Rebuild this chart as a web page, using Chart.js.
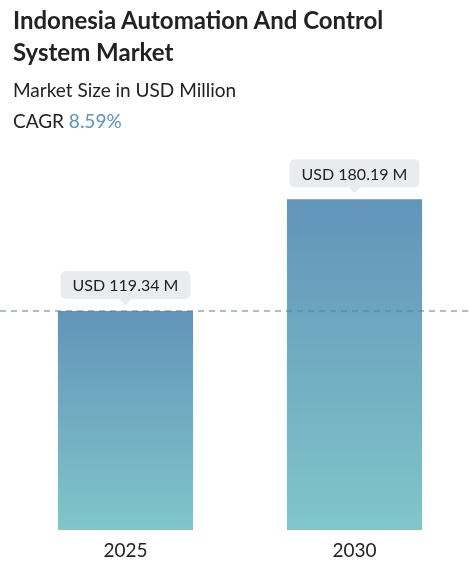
<!DOCTYPE html>
<html><head><meta charset="utf-8">
<script src="https://cdn.jsdelivr.net/npm/chart.js@4"></script>
<style>
body{margin:0;width:469px;height:562px;position:relative;font-family:Lato,"Open Sans",sans-serif;background:#fff;overflow:hidden}
#head{position:absolute;left:13px;top:4px;color:#222}
h1{margin:0;font-size:24px;line-height:32px;font-weight:700}
.sub{font-size:19px;line-height:31px;margin-top:6px}
.sub + .sub{margin-top:0}
.cagr{color:#5f93b8}
#wrap{position:absolute;left:0;top:0;width:469px;height:562px}
</style></head><body>
<div id="wrap"><canvas id="myChart"></canvas></div>
<div id="head">
<h1>Indonesia Automation And Control<br>System Market</h1>
<div class="sub">Market Size in USD Million</div>
<div class="sub">CAGR <span class="cagr">8.59%</span></div>
</div>
<script>
var years = ["2025", "2030"];
var sizes = [119.34, 180.19];
var tags = ["USD 119.34 M", "USD 180.19 M"];

// dashed line, value boxes and year labels
var extras = {
  id: "extras",
  afterDatasetsDraw: function(chart) {
    var c = chart.ctx, x = chart.scales.x, y = chart.scales.y;
    var yl = y.getPixelForValue(sizes[0]);
    c.save();
    c.strokeStyle = "#5a7f99"; c.lineWidth = 1; c.setLineDash([6, 5]);
    c.beginPath(); c.moveTo(0, yl); c.lineTo(chart.width, yl); c.stroke();
    c.setLineDash([]);
    c.textAlign = "center"; c.textBaseline = "middle";
    for (var i = 0; i < sizes.length; i++) {
      c.font = "16px Lato, sans-serif";
      var cx = x.getPixelForValue(i), top = y.getPixelForValue(sizes[i]);
      var w = c.measureText(tags[i]).width + 24, h = 28, by = top - 40;
      c.fillStyle = "#e9ecef";
      c.beginPath(); c.roundRect(cx - w / 2, by, w, h, 5); c.fill();
      c.beginPath(); c.moveTo(cx - 6, by + h); c.lineTo(cx + 6, by + h); c.lineTo(cx, by + h + 6); c.fill();
      c.fillStyle = "#222"; c.fillText(tags[i], cx, by + h / 2 + 1);
      c.font = "19px Lato, sans-serif";
      c.fillText(years[i], cx, 551);
    }
    c.restore();
  }
};

new Chart(document.getElementById("myChart"), {
  type: "bar",
  data: {
    labels: years,
    datasets: [{
      data: sizes,
      backgroundColor: function(ctx) {
        var a = ctx.chart.chartArea;
        if (!a || ctx.raw === undefined) return "#6a9fbf";
        var t = ctx.chart.scales.y.getPixelForValue(ctx.raw);
        var g = ctx.chart.ctx.createLinearGradient(0, t, 0, a.bottom);
        g.addColorStop(0, "#6294ba"); g.addColorStop(1, "#80c6c9");
        return g;
      },
      barPercentage: 1, categoryPercentage: 0.59
    }]
  },
  options: {
    responsive: true, maintainAspectRatio: false, animation: false,
    layout: { padding: { top: 163, bottom: 32, left: 11, right: 0 } },
    plugins: { legend: { display: false }, tooltip: { enabled: false } },
    scales: {
      x: { display: false },
      y: { display: false, min: 0, max: 200 }
    }
  },
  plugins: [extras]
});
</script>
</body></html>
